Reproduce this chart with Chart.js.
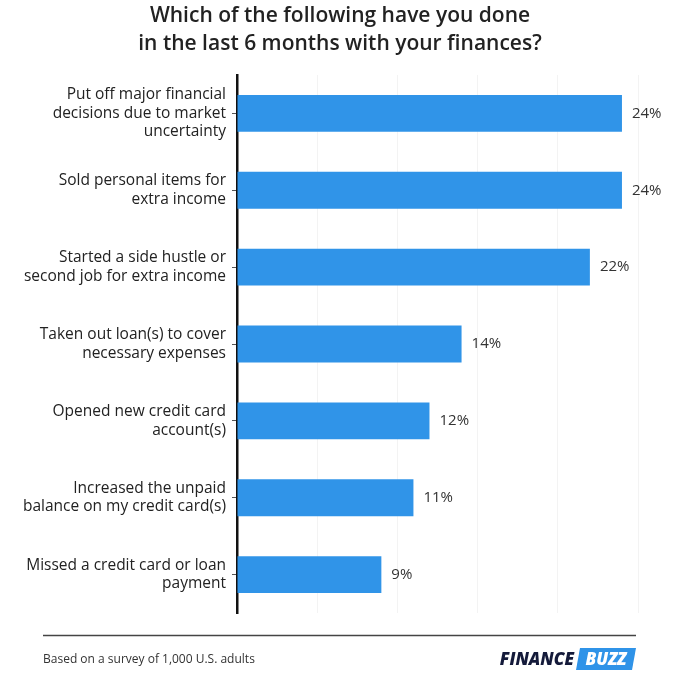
<!DOCTYPE html>
<html><head><meta charset="utf-8">
<script src="https://cdn.jsdelivr.net/npm/chart.js"></script>
<style>html,body{margin:0;padding:0;background:#fff}#w{width:680px;height:680px}</style>
</head><body><div id="w"><canvas id="c"></canvas></div>
<script>
const categories = [
  ["Put off major financial","decisions due to market","uncertainty"],
  ["Sold personal items for","extra income"],
  ["Started a side hustle or","second job for extra income"],
  ["Taken out loan(s) to cover","necessary expenses"],
  ["Opened new credit card","account(s)"],
  ["Increased the unpaid","balance on my credit card(s)"],
  ["Missed a credit card or loan","payment"]
];
const values = [24, 24, 22, 14, 12, 11, 9];
const titleLines = ["Which of the following have you done","in the last 6 months with your finances?"];
const footnote = "Based on a survey of 1,000 U.S. adults";
const F = "'Open Sans', sans-serif";

const deco = {
  id: 'deco',
  afterDraw(chart) {
    const ctx = chart.ctx;
    ctx.save();
    ctx.fillStyle = '#222';
    ctx.font = `600 21px ${F}`;
    ctx.textAlign = 'center'; ctx.textBaseline = 'middle';
    ctx.fillText(titleLines[0], 340, 16);
    ctx.fillText(titleLines[1], 340, 44);
    const meta = chart.getDatasetMeta(0);
    ctx.font = `15px ${F}`; ctx.fillStyle = '#333'; ctx.textAlign = 'left';
    meta.data.forEach((b, i) => ctx.fillText(values[i] + '%', b.x + 10, b.y));
    ctx.strokeStyle = '#444'; ctx.lineWidth = 1.5;
    ctx.beginPath(); ctx.moveTo(43, 635.5); ctx.lineTo(636, 635.5); ctx.stroke();
    ctx.font = `12px ${F}`; ctx.fillStyle = '#333';
    ctx.fillText(footnote, 43, 660);
    ctx.beginPath(); ctx.moveTo(580, 648); ctx.lineTo(636, 648); ctx.lineTo(632, 670); ctx.lineTo(576, 670); ctx.closePath();
    ctx.fillStyle = '#2f93e8'; ctx.fill();
    ctx.font = `italic 900 17px ${F}`;
    ctx.fillStyle = '#141a3a'; ctx.textAlign = 'right';
    ctx.fillText('FINANCE', 574, 660);
    ctx.fillStyle = '#fff'; ctx.textAlign = 'center';
    ctx.fillText('BUZZ', 606, 660);
    ctx.restore();
  }
};

new Chart(document.getElementById('c'), {
  type: 'bar',
  data: { labels: categories, datasets: [{ data: values, backgroundColor: '#3094e8', barPercentage: 0.96, categoryPercentage: 0.5 }] },
  options: {
    indexAxis: 'y', responsive: true, maintainAspectRatio: false, animation: false,
    layout: { padding: { top: 75, bottom: 67, right: 42, left: 0 } },
    plugins: { legend: { display: false }, tooltip: { enabled: false } },
    scales: {
      x: { min: 0, max: 25, ticks: { display: false, stepSize: 5 }, border: { display: false },
           grid: { color: '#f3f3f3', drawTicks: false } },
      y: { afterFit: s => { s.width = 237; },
           border: { color: '#111', width: 2.5 },
           grid: { offset: false, drawOnChartArea: false, drawTicks: true, tickLength: 5, color: '#555' },
           ticks: { color: '#222', font: { family: F, size: 15.5 }, padding: 6, lineHeight: 1.2 } }
    }
  },
  plugins: [deco]
});
</script></body></html>
